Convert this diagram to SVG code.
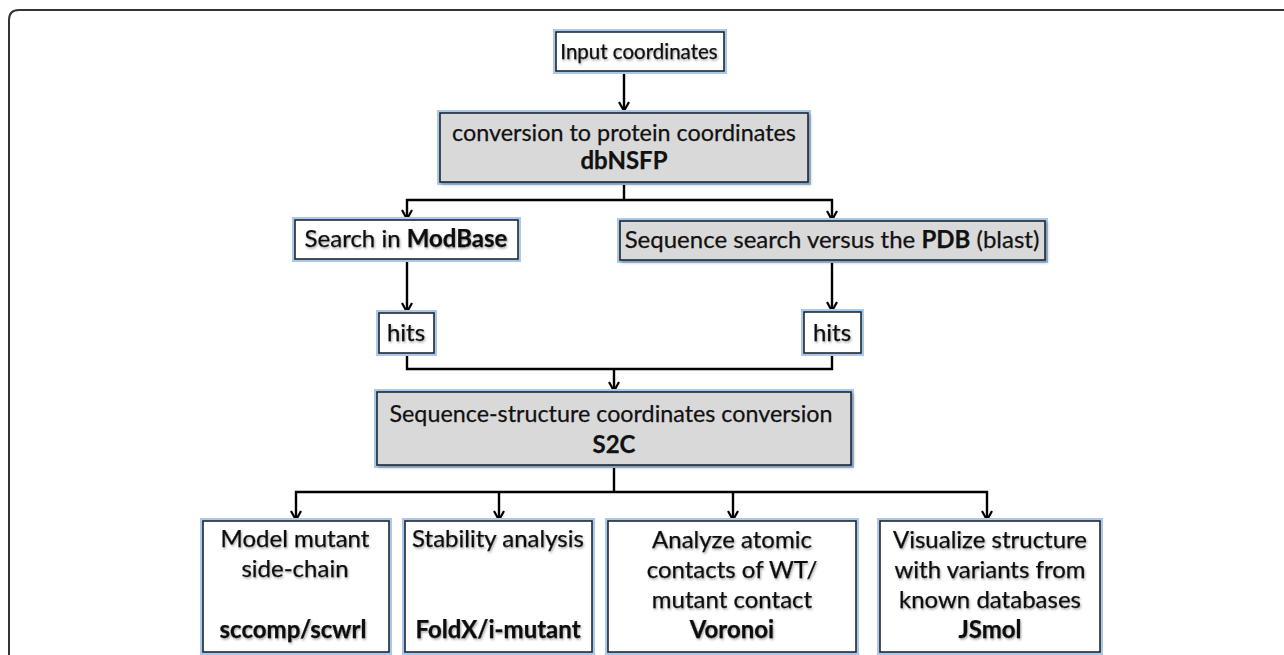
<svg xmlns="http://www.w3.org/2000/svg" width="1284" height="655" viewBox="0 0 1284 655">
<defs>
<marker id="ah" viewBox="0 0 12 12" refX="11" refY="6" markerWidth="12" markerHeight="12" markerUnits="userSpaceOnUse" orient="auto">
<path d="M2,1 L11,6 L2,11" fill="none" stroke="#000" stroke-width="2.2" stroke-linejoin="miter"/>
</marker>
<filter id="ts" x="-10%" y="-30%" width="120%" height="160%">
<feDropShadow dx="1" dy="1.5" stdDeviation="1.2" flood-color="#000" flood-opacity="0.35"/>
</filter>
<filter id="bs" x="-5%" y="-10%" width="110%" height="125%">
<feDropShadow dx="2" dy="2" stdDeviation="1.5" flood-color="#000" flood-opacity="0.25"/>
</filter>
</defs>
<style>
.glow{fill:none;stroke:#a9c8ea;stroke-width:6}
.wbox{fill:#fff;stroke:#1d2733;stroke-width:1.6}
.gbox{fill:#d9d9d9;stroke:#1d2733;stroke-width:1.6}
text{font-family:Lato,"Open Sans","Liberation Sans",sans-serif;font-size:24px;fill:#111;text-anchor:middle;stroke:#111;stroke-width:0.25}
.b{font-weight:bold}
.sh{filter:url(#ts)}
.con{fill:none;stroke:#000;stroke-width:2.4}
</style>
<rect width="1284" height="655" fill="#fff"/>
<path d="M9,660 L9,20 Q9,10 19,10 L1284,10" fill="none" stroke="#333" stroke-width="2"/>

<g id="connectors">
<path class="con" d="M624,71 L624,111" marker-end="url(#ah)"/>
<path class="con" d="M624,182 L624,200 M406,200 L833,200"/>
<path class="con" d="M407,199 L407,219" marker-end="url(#ah)"/>
<path class="con" d="M832,199 L832,220" marker-end="url(#ah)"/>
<path class="con" d="M407,259 L407,312" marker-end="url(#ah)"/>
<path class="con" d="M832,260 L832,311" marker-end="url(#ah)"/>
<path class="con" d="M407,353 L407,369 L832,369 L832,353"/>
<path class="con" d="M614,368 L614,391" marker-end="url(#ah)"/>
<path class="con" d="M614,465 L614,492 M295,492 L988,492"/>
<path class="con" d="M296,491 L296,520" marker-end="url(#ah)"/>
<path class="con" d="M499,491 L499,520" marker-end="url(#ah)"/>
<path class="con" d="M733,491 L733,520" marker-end="url(#ah)"/>
<path class="con" d="M987,491 L987,520" marker-end="url(#ah)"/>
</g>

<g id="input">
<rect class="glow" x="556" y="32" width="168" height="39"/>
<rect class="wbox" x="556" y="32" width="168" height="39"/>
<text class="sh" x="639" y="59" style="font-size:20.5px">Input coordinates</text>
</g>

<g id="dbnsfp">
<rect class="glow" x="440" y="113" width="368" height="69"/>
<rect class="gbox" x="440" y="113" width="368" height="69" filter="url(#bs)"/>
<text x="624" y="141" textLength="344" lengthAdjust="spacingAndGlyphs">conversion to protein coordinates</text>
<text class="b" x="624" y="169">dbNSFP</text>
</g>

<g id="modbase">
<rect class="glow" x="295" y="220" width="223" height="39"/>
<rect class="wbox" x="295" y="220" width="223" height="39"/>
<text class="sh" x="406" y="247">Search in <tspan class="b">ModBase</tspan></text>
</g>

<g id="pdb">
<rect class="glow" x="620" y="221" width="425" height="39"/>
<rect class="gbox" x="620" y="221" width="425" height="39" filter="url(#bs)"/>
<text x="832" y="248">Sequence search versus the <tspan class="b">PDB</tspan> (blast)</text>
</g>

<g id="hits1">
<rect class="glow" x="379" y="313" width="55" height="40"/>
<rect class="wbox" x="379" y="313" width="55" height="40"/>
<text class="sh" x="406" y="341">hits</text>
</g>

<g id="hits2">
<rect class="glow" x="804" y="312" width="57" height="41"/>
<rect class="wbox" x="804" y="312" width="57" height="41"/>
<text class="sh" x="832" y="341">hits</text>
</g>

<g id="s2c">
<rect class="glow" x="377" y="392" width="474" height="73"/>
<rect class="gbox" x="377" y="392" width="474" height="73" filter="url(#bs)"/>
<text x="611" y="422" textLength="443" lengthAdjust="spacingAndGlyphs">Sequence-structure coordinates conversion</text>
<text class="b" x="614" y="453">S2C</text>
</g>

<g id="sccomp">
<rect class="glow" x="203" y="521" width="186" height="131"/>
<rect class="wbox" x="203" y="521" width="186" height="131"/>
<text class="sh" x="295" y="547">Model mutant</text>
<text class="sh" x="295" y="577">side-chain</text>
<text class="sh b" x="293" y="638">sccomp/scwrl</text>
</g>

<g id="foldx">
<rect class="glow" x="405" y="521" width="187" height="131"/>
<rect class="wbox" x="405" y="521" width="187" height="131"/>
<text class="sh" x="498" y="547">Stability analysis</text>
<text class="sh b" x="498" y="638">FoldX/i-mutant</text>
</g>

<g id="voronoi">
<rect class="glow" x="608" y="521" width="248" height="131"/>
<rect class="wbox" x="608" y="521" width="248" height="131"/>
<text class="sh" x="732" y="548">Analyze atomic</text>
<text class="sh" x="732" y="578">contacts of WT/</text>
<text class="sh" x="732" y="608">mutant contact</text>
<text class="sh b" x="732" y="638">Voronoi</text>
</g>

<g id="jsmol">
<rect class="glow" x="880" y="521" width="220" height="131"/>
<rect class="wbox" x="880" y="521" width="220" height="131"/>
<text class="sh" x="990" y="548">Visualize structure</text>
<text class="sh" x="990" y="578">with variants from</text>
<text class="sh" x="990" y="608">known databases</text>
<text class="sh b" x="990" y="638">JSmol</text>
</g>
</svg>
